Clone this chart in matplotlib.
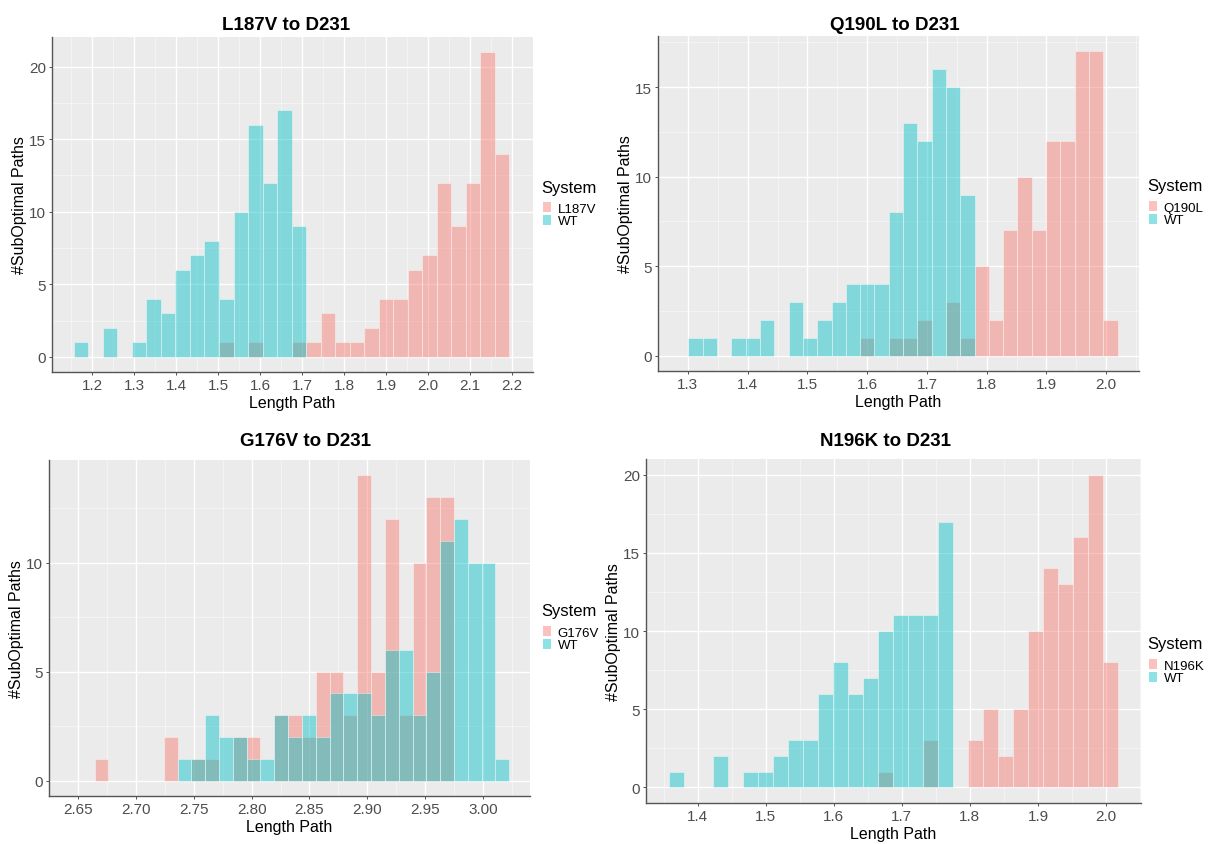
import numpy as np
import matplotlib.pyplot as plt
from matplotlib.patches import Patch

plt.rcParams['font.family'] = ['Liberation Sans', 'DejaVu Sans']

PINK = '#F8766D'
TEAL = '#00BFC4'
ALPHA = 0.45

# ---- data: 30-bin histograms (bin start, bin width, counts) ----
titles = ['L187V to D231', 'Q190L to D231', 'G176V to D231', 'N196K to D231']
mutants = ['L187V', 'Q190L', 'G176V', 'N196K']

bin_start = [1.156, 1.301, 2.6644, 1.3573]
bin_width = [0.0346, 0.02393, 0.01194, 0.02203]

mut_l187v = [0, 0, 0, 0, 0, 0, 0, 0, 0, 0, 1, 0, 1, 0, 0, 1,
             1, 3, 1, 1, 2, 4, 4, 6, 7, 12, 9, 12, 21, 14]
wt_l187v = [1, 0, 2, 0, 1, 4, 3, 6, 7, 8, 4, 10, 16, 12, 17, 9,
            0, 0, 0, 0, 0, 0, 0, 0, 0, 0, 0, 0, 0, 0]

mut_q190l = [0, 0, 0, 0, 0, 0, 0, 0, 0, 0, 0, 0, 1, 0, 1, 1,
             2, 0, 3, 1, 5, 2, 7, 10, 7, 12, 12, 17, 17, 2]
wt_q190l = [1, 1, 0, 1, 1, 2, 0, 3, 1, 2, 3, 4, 4, 4, 8, 13,
            12, 16, 15, 9, 0, 0, 0, 0, 0, 0, 0, 0, 0, 0]

mut_g176v = [1, 0, 0, 0, 0, 2, 0, 1, 1, 0, 2, 2, 0, 3, 3, 2,
             5, 5, 3, 14, 5, 12, 3, 10, 13, 13, 0, 0, 0, 0]
wt_g176v = [0, 0, 0, 0, 0, 0, 1, 1, 3, 2, 2, 1, 1, 3, 2, 3,
            2, 4, 4, 4, 3, 6, 6, 3, 5, 11, 12, 10, 10, 1]

mut_n196k = [0, 0, 0, 0, 0, 0, 0, 0, 0, 0, 0, 0, 0, 0, 1, 0,
             0, 3, 0, 0, 3, 5, 2, 5, 10, 14, 13, 16, 20, 8]
wt_n196k = [1, 0, 0, 2, 0, 1, 1, 2, 3, 3, 6, 8, 6, 7, 10, 11,
            11, 11, 17, 0, 0, 0, 0, 0, 0, 0, 0, 0, 0, 0]

mut_counts = [mut_l187v, mut_q190l, mut_g176v, mut_n196k]
wt_counts = [wt_l187v, wt_q190l, wt_g176v, wt_n196k]

xticks = [np.arange(1.2, 2.21, 0.1), np.arange(1.3, 2.01, 0.1),
          np.arange(2.65, 3.01, 0.05), np.arange(1.4, 2.01, 0.1)]
xfmt = ['%.1f', '%.1f', '%.2f', '%.1f']
yticks = [[0, 5, 10, 15, 20], [0, 5, 10, 15], [0, 5, 10], [0, 5, 10, 15, 20]]

# ---- layout in pixels (left, right, top, bottom) ----
W, H = 1212, 845
boxes = [(52, 533, 38, 373), (658, 1139, 37, 372),
         (49, 530, 461, 797), (646, 1141, 460, 804)]
title_pos = [(286, 25), (895, 25), (305, 442), (886, 442)]
legend_pos = [(541, 188), (1147, 187), (541, 612), (1147, 645)]

fig = plt.figure(figsize=(W / 100, H / 100), dpi=100)

for i in range(4):
    l, r, t, b = boxes[i]
    ax = fig.add_axes([l / W, 1 - b / H, (r - l) / W, (b - t) / H])
    ax.set_facecolor('#EBEBEB')
    edges = bin_start[i] + bin_width[i] * np.arange(31)
    ax.bar(edges[:-1], mut_counts[i], width=bin_width[i], align='edge',
           color=PINK, alpha=ALPHA, edgecolor='white', linewidth=0.6, zorder=2)
    ax.bar(edges[:-1], wt_counts[i], width=bin_width[i], align='edge',
           color=TEAL, alpha=ALPHA, edgecolor='white', linewidth=0.6, zorder=3)

    span = edges[-1] - edges[0]
    ax.set_xlim(edges[0] - 0.05 * span, edges[-1] + 0.05 * span)
    ymax = max(max(mut_counts[i]), max(wt_counts[i]))
    ax.set_ylim(-0.05 * ymax, 1.05 * ymax)

    ax.set_xticks(xticks[i])
    ax.set_xticklabels([xfmt[i] % v for v in xticks[i]])
    ax.set_yticks(yticks[i])
    step = xticks[i][1] - xticks[i][0]
    ax.set_xticks(np.arange(xticks[i][0] - step / 2, xticks[i][-1] + step, step), minor=True)
    ax.set_yticks(np.arange(2.5, 1.05 * ymax, 5), minor=True)
    ax.grid(True, which='major', color='white', linewidth=1.0, zorder=0)
    ax.grid(True, which='minor', color='white', linewidth=0.5, alpha=0.6, zorder=0)
    ax.set_axisbelow(True)

    ax.tick_params(which='major', labelsize=11, labelcolor='#4D4D4D',
                   color='#333333', length=2.5, width=0.6, pad=2)
    ax.tick_params(which='minor', length=0)
    for s in ['top', 'right']:
        ax.spines[s].set_visible(False)
    for s in ['left', 'bottom']:
        ax.spines[s].set_color('#555555')
        ax.spines[s].set_linewidth(1.0)

    ax.set_xlabel('Length Path', fontsize=11.5, labelpad=2)
    ax.set_ylabel('#SubOptimal Paths', fontsize=11.5, labelpad=1.5)

    fig.text(title_pos[i][0] / W, 1 - title_pos[i][1] / H, titles[i],
             fontsize=13.5, fontweight='bold', ha='center', va='center')

    # legend: title as text, keys as a compact legend below it
    lx, ly = legend_pos[i]
    fig.text(lx / W, 1 - ly / H, 'System', fontsize=12, ha='left', va='center')
    handles = [Patch(facecolor=PINK, alpha=ALPHA, edgecolor='none', label=mutants[i]),
               Patch(facecolor=TEAL, alpha=ALPHA, edgecolor='none', label='WT')]
    fig.legend(handles=handles, loc='upper left',
               bbox_to_anchor=((lx + 2) / W, 1 - (ly + 15) / H), frameon=False,
               fontsize=9.5, handlelength=0.6, handleheight=0.8,
               labelspacing=0.0, handletextpad=0.5,
               borderpad=0, borderaxespad=0)

fig.savefig('out.png', dpi=100)
